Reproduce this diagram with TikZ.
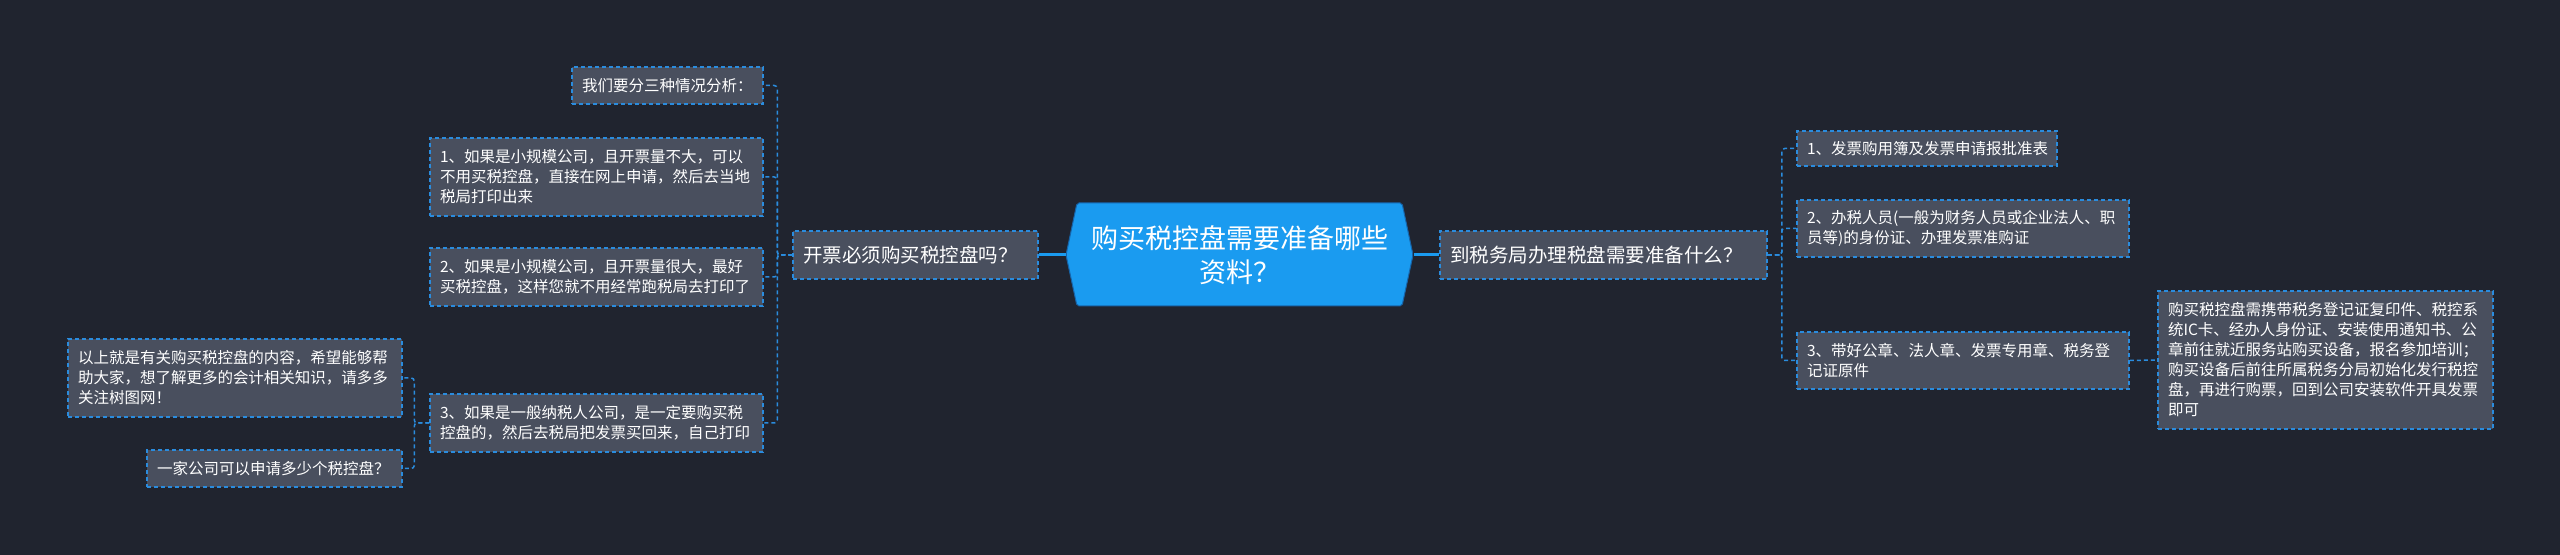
\documentclass[tikz,border=0pt]{standalone}
\usepackage{fontspec}
\setmainfont{Noto Sans CJK SC}
\definecolor{bgdark}{RGB}{32,36,47}
\definecolor{boxgrey}{RGB}{73,79,94}
\definecolor{linkblue}{RGB}{42,140,222}
\definecolor{rootblue}{RGB}{26,155,240}
\definecolor{rootedge}{RGB}{22,100,170}
\tikzstyle{leaf}=[draw=linkblue, line width=0.75pt, dash pattern=on 2pt off 1.5pt, fill=boxgrey, text=white, align=left, inner xsep=5pt, inner ysep=0pt, font=\fontsize{7.75pt}{10pt}\selectfont]
\tikzstyle{mid}=[leaf, font=\fontsize{9.75pt}{12pt}\selectfont]
\tikzstyle{link}=[linkblue, line width=0.75pt, dash pattern=on 2pt off 1.5pt, rounded corners=1.5pt]
\tikzstyle{trunk}=[rootblue, line width=1.5pt]

\begin{document}
\begin{tikzpicture}[x=0.5pt, y=-0.5pt]
\fill[bgdark] (0,0) rectangle (2560,555);
\useasboundingbox (0,0) rectangle (2560,555);
% central topic
\draw[fill=rootblue, draw=rootedge, line width=0.5pt, rounded corners=1pt] (1066,255) -- (1077,203) -- (1402,203) -- (1413,255) -- (1402,306) -- (1077,306) -- cycle;
\node at (1240,255)[minimum width=173.5pt, minimum height=51.5pt, inner sep=0, text=white, align=center, font=\fontsize{13.5pt}{17pt}\selectfont](root){购买税控盘需要准备哪些\\资料？};
% first level
\node at (915.5,255)[mid, minimum width=122.5pt, minimum height=24pt, text width=112.5pt](q1){开票必须购买税控盘吗？};
\node at (1603.5,255)[mid, minimum width=163.5pt, minimum height=24pt, text width=153.5pt](q2){到税务局办理税盘需要准备什么？};
% left branch
\node at (667.5,85.5)[leaf, minimum width=95.5pt, minimum height=18.5pt, text width=85.5pt](a0){我们要分三种情况分析：};
\node at (596.5,177)[leaf, minimum width=166.5pt, minimum height=39pt, text width=156.5pt](a1){1、如果是小规模公司，且开票量不大，可以\\不用买税控盘，直接在网上申请，然后去当地\\税局打印出来};
\node at (596.5,277)[leaf, minimum width=166.5pt, minimum height=29pt, text width=156.5pt](a2){2、如果是小规模公司，且开票量很大，最好\\买税控盘，这样您就不用经常跑税局去打印了};
\node at (596.5,423)[leaf, minimum width=166.5pt, minimum height=29pt, text width=156.5pt](a3){3、如果是一般纳税人公司，是一定要购买税\\控盘的，然后去税局把发票买回来，自己打印};
\node at (235,378)[leaf, minimum width=167pt, minimum height=39pt, text width=157pt](c1){以上就是有关购买税控盘的内容，希望能够帮\\助大家，想了解更多的会计相关知识，请多多\\关注树图网！};
\node at (274.5,468.5)[leaf, minimum width=127.5pt, minimum height=18.5pt, text width=117.5pt](c2){一家公司可以申请多少个税控盘？};
% right branch
\node at (1927,148.5)[leaf, minimum width=130pt, minimum height=17.5pt, text width=120pt](b1){1、发票购用簿及发票申请报批准表};
\node at (1963,228.5)[leaf, minimum width=166pt, minimum height=28.5pt, text width=156pt](b2){2、办税人员(一般为财务人员或企业法人、职\\员等)的身份证、办理发票准购证};
\node at (1963,360.5)[leaf, minimum width=166pt, minimum height=28.5pt, text width=156pt](b3){3、带好公章、法人章、发票专用章、税务登\\记证原件};
\node at (2325.5,360)[leaf, minimum width=167.5pt, minimum height=69pt, text width=157.5pt](d1){购买税控盘需携带税务登记证复印件、税控系\\统IC卡、经办人身份证、安装使用通知书、公\\章前往就近服务站购买设备，报名参加培训；\\购买设备后前往所属税务分局初始化发行税控\\盘，再进行购票，回到公司安装软件开具发票\\即可};
% connectors
\draw[trunk] (root.west) -- (q1.east);
\draw[trunk] (root.east) -- (q2.west);
\foreach \n in {a0,a1,a2,a3} {\draw[link] (q1.west) -- ++(-15,0) |- (\n.east);}
\foreach \n in {c1,c2} {\draw[link] (a3.west) -- ++(-15,0) |- (\n.east);}
\foreach \n in {b1,b2,b3} {\draw[link] (q2.east) -- ++(14,0) |- (\n.west);}
\draw[link] (b3.east) -- (d1.west);
\end{tikzpicture}
\end{document}
